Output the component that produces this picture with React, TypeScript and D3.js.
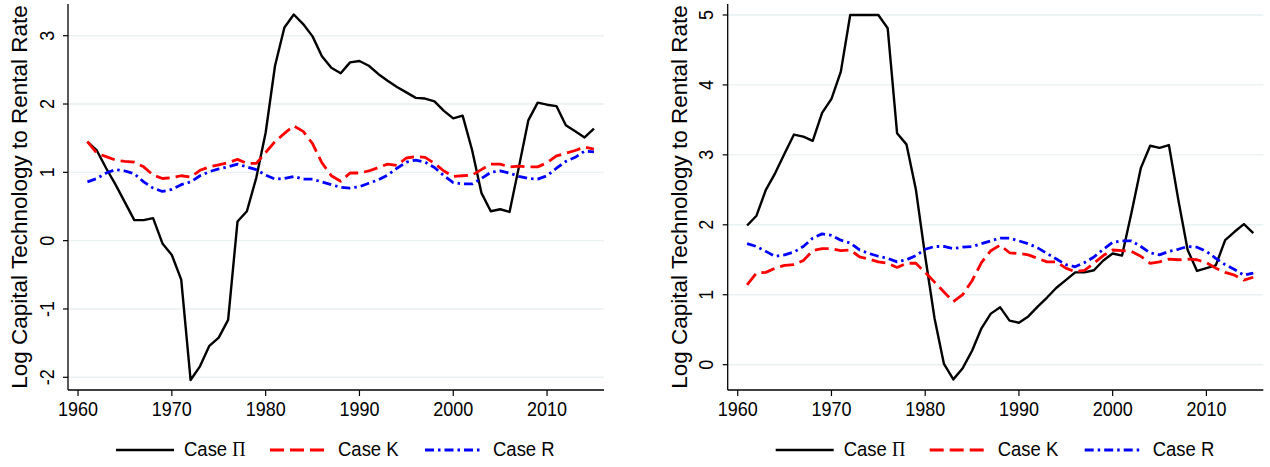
import * as d3 from "d3";

// years shared by both panels
const years = [
  1961, 1962, 1963, 1964, 1965, 1966, 1967, 1968, 1969, 1970,
  1971, 1972, 1973, 1974, 1975, 1976, 1977, 1978, 1979, 1980,
  1981, 1982, 1983, 1984, 1985, 1986, 1987, 1988, 1989, 1990,
  1991, 1992, 1993, 1994, 1995, 1996, 1997, 1998, 1999, 2000,
  2001, 2002, 2003, 2004, 2005, 2006, 2007, 2008, 2009, 2010,
  2011, 2012, 2013, 2014, 2015,
];

// left panel
const leftPi = [
  1.45, 1.32, 1.06, 0.82, 0.56, 0.3, 0.3, 0.33, -0.04, -0.21,
  -0.57, -2.04, -1.84, -1.54, -1.42, -1.16, 0.28, 0.43, 0.92, 1.58,
  2.56, 3.12, 3.31, 3.17, 2.99, 2.7, 2.53, 2.45, 2.61, 2.63,
  2.56, 2.44, 2.34, 2.25, 2.17, 2.09, 2.08, 2.04, 1.9, 1.79,
  1.83, 1.33, 0.7, 0.43, 0.46, 0.42, 1.08, 1.76, 2.02, 1.99,
  1.97, 1.69, 1.6, 1.51, 1.64,
];
const leftK = [
  1.45, 1.28, 1.23, 1.18, 1.16, 1.15, 1.08, 0.96, 0.91, 0.92,
  0.95, 0.93, 1.03, 1.08, 1.11, 1.14, 1.19, 1.13, 1.13, 1.29,
  1.45, 1.57, 1.68, 1.6, 1.42, 1.14, 0.95, 0.87, 0.99, 0.99,
  1.02, 1.07, 1.12, 1.1, 1.21, 1.23, 1.22, 1.13, 1.02, 0.94,
  0.95, 0.96, 1.04, 1.12, 1.12, 1.08, 1.09, 1.08, 1.08, 1.14,
  1.24, 1.28, 1.32, 1.37, 1.34,
];
const leftR = [
  0.86, 0.91, 0.99, 1.04, 1.02, 0.98, 0.86, 0.77, 0.72, 0.75,
  0.82, 0.86, 0.95, 1.01, 1.05, 1.08, 1.12, 1.08, 1.04, 0.96,
  0.9, 0.91, 0.94, 0.9, 0.9, 0.86, 0.82, 0.78, 0.77, 0.79,
  0.84, 0.89, 0.96, 1.06, 1.15, 1.18, 1.15, 1.07, 0.95, 0.85,
  0.83, 0.83, 0.91, 1.0, 1.02, 0.99, 0.94, 0.91, 0.9, 0.95,
  1.06, 1.16, 1.22, 1.31, 1.3,
];

// right panel
const rightPi = [
  1.99, 2.13, 2.5, 2.74, 3.02, 3.29, 3.26, 3.2, 3.6, 3.8,
  4.19, 5.0, 5.0, 5.0, 5.0, 4.81, 3.31, 3.15, 2.51, 1.55,
  0.66, 0.01, -0.21, -0.05, 0.2, 0.52, 0.73, 0.82, 0.63, 0.6,
  0.69, 0.83, 0.96, 1.1, 1.21, 1.32, 1.32, 1.35, 1.49, 1.59,
  1.56, 2.17, 2.81, 3.13, 3.1, 3.14, 2.36, 1.64, 1.34, 1.38,
  1.42, 1.78, 1.9, 2.01, 1.88,
];
const rightK = [
  1.14, 1.31, 1.32, 1.38, 1.42, 1.43, 1.49, 1.63, 1.66, 1.66,
  1.63, 1.64, 1.54, 1.51, 1.47, 1.45, 1.39, 1.45, 1.45, 1.32,
  1.18, 1.04, 0.9, 1.0, 1.2, 1.46, 1.63, 1.71, 1.6, 1.59,
  1.57, 1.52, 1.47, 1.47, 1.38, 1.33, 1.35, 1.45, 1.56, 1.64,
  1.63, 1.62, 1.55, 1.45, 1.47, 1.51, 1.5, 1.51, 1.5, 1.46,
  1.38, 1.32, 1.28, 1.21, 1.25,
];
const rightR = [
  1.73, 1.69, 1.62, 1.55, 1.57, 1.61, 1.69, 1.81, 1.87, 1.85,
  1.78, 1.74, 1.64, 1.59, 1.55, 1.52, 1.47, 1.5, 1.56, 1.65,
  1.69, 1.69, 1.66, 1.68, 1.69, 1.73, 1.77, 1.81, 1.81, 1.77,
  1.73, 1.67, 1.59, 1.51, 1.43, 1.4, 1.46, 1.54, 1.65, 1.75,
  1.77, 1.77, 1.69, 1.6, 1.57, 1.62, 1.65, 1.69, 1.68, 1.62,
  1.52, 1.43, 1.36, 1.28, 1.31,
];

const xTicks = [1960, 1970, 1980, 1990, 2000, 2010];
const leftYTicks = [-2, -1, 0, 1, 2, 3];
const rightYTicks = [0, 1, 2, 3, 4, 5];
const caseNames = ["K", "R"];
const yTitle = "Log Capital Technology to Rental Rate";

const FONT = "'Liberation Sans', Arial, Helvetica, sans-serif";
// stata's labels are a bit taller than arial, stretch a little
const STRETCH = 1.12;

const styles = [
  { color: "#000000", dash: null, width: 2.4 },
  { color: "#ff0000", dash: "14,6", width: 2.8 },
  { color: "#0000ff", dash: "9,4,2.5,4", width: 2.8 },
];

function Panel({ x0, x1, yDomain, yTicks, series }) {
  const top = 4;
  const bottom = 390;
  const x = d3.scaleLinear().domain([1958.93, 2016.07]).range([x0, x1]);
  const y = d3.scaleLinear().domain(yDomain).range([bottom, top]);
  const line = d3
    .line<number>()
    .x((_, i) => x(years[i]))
    .y((d) => y(d));

  const legendX = x0 + 48;
  const itemOffsets = [0, 154, 309];

  return (
    <g>
      {/* grid */}
      {yTicks.map((t) => (
        <line key={"g" + t} x1={x0} x2={x1} y1={y(t)} y2={y(t)} stroke="#e9f1f3" strokeWidth={1.4} />
      ))}
      {/* series */}
      {series.map((s, i) => (
        <path
          key={i}
          d={line(s) || ""}
          fill="none"
          stroke={styles[i].color}
          strokeWidth={styles[i].width}
          strokeDasharray={styles[i].dash || undefined}
          strokeLinejoin="round"
        />
      ))}
      {/* axes */}
      <line x1={x0} x2={x0} y1={top} y2={bottom} stroke="#000" strokeWidth={1.3} />
      <line x1={x0} x2={x1} y1={bottom} y2={bottom} stroke="#000" strokeWidth={1.3} />
      {yTicks.map((t) => (
        <g key={"yt" + t}>
          <line x1={x0 - 5} x2={x0} y1={y(t)} y2={y(t)} stroke="#000" strokeWidth={1.2} />
          <text
            transform={`translate(${x0 - 14.5},${y(t)}) rotate(-90) scale(1,${STRETCH})`}
            textAnchor="middle"
            fontSize={18}
            fontFamily={FONT}
          >
            {t}
          </text>
        </g>
      ))}
      {xTicks.map((t) => (
        <g key={"xt" + t}>
          <line x1={x(t)} x2={x(t)} y1={bottom} y2={bottom + 6} stroke="#000" strokeWidth={1.2} />
          <text
            transform={`translate(${x(t)},416.2) scale(1,${STRETCH})`}
            textAnchor="middle"
            fontSize={18}
            fontFamily={FONT}
          >
            {t}
          </text>
        </g>
      ))}
      <text
        transform={`translate(${x0 - 41},197) rotate(-90)`}
        textAnchor="middle"
        fontSize={22.5}
        fontFamily={FONT}
      >
        {yTitle}
      </text>
      {/* legend */}
      {styles.map((st, i) => (
        <g key={"lg" + i} transform={`translate(${legendX + itemOffsets[i]},450)`}>
          <line
            x1={0}
            x2={58}
            y1={0}
            y2={0}
            stroke={st.color}
            strokeWidth={st.width}
            strokeDasharray={st.dash || undefined}
          />
          <text transform={`translate(68,6) scale(1,${STRETCH})`} fontSize={18.5} fontFamily={FONT}>
            {i === 0 ? (
              <>
                Case <tspan fontFamily="'Liberation Serif', 'Times New Roman', serif">Π</tspan>
              </>
            ) : (
              "Case " + caseNames[i - 1]
            )}
          </text>
        </g>
      ))}
    </g>
  );
}

export default function App() {
  return (
    <div style={{ position: "absolute", left: 0, top: 0, background: "#fff" }}>
      <svg width={1270} height={467} style={{ display: "block" }}>
        <rect width={1270} height={467} fill="#fff" />
        <Panel x0={68} x1={604} yDomain={[-2.186, 3.464]} yTicks={leftYTicks} series={[leftPi, leftK, leftR]} />
        <Panel x0={727.7} x1={1263.3} yDomain={[-0.362, 5.157]} yTicks={rightYTicks} series={[rightPi, rightK, rightR]} />
      </svg>
    </div>
  );
}
